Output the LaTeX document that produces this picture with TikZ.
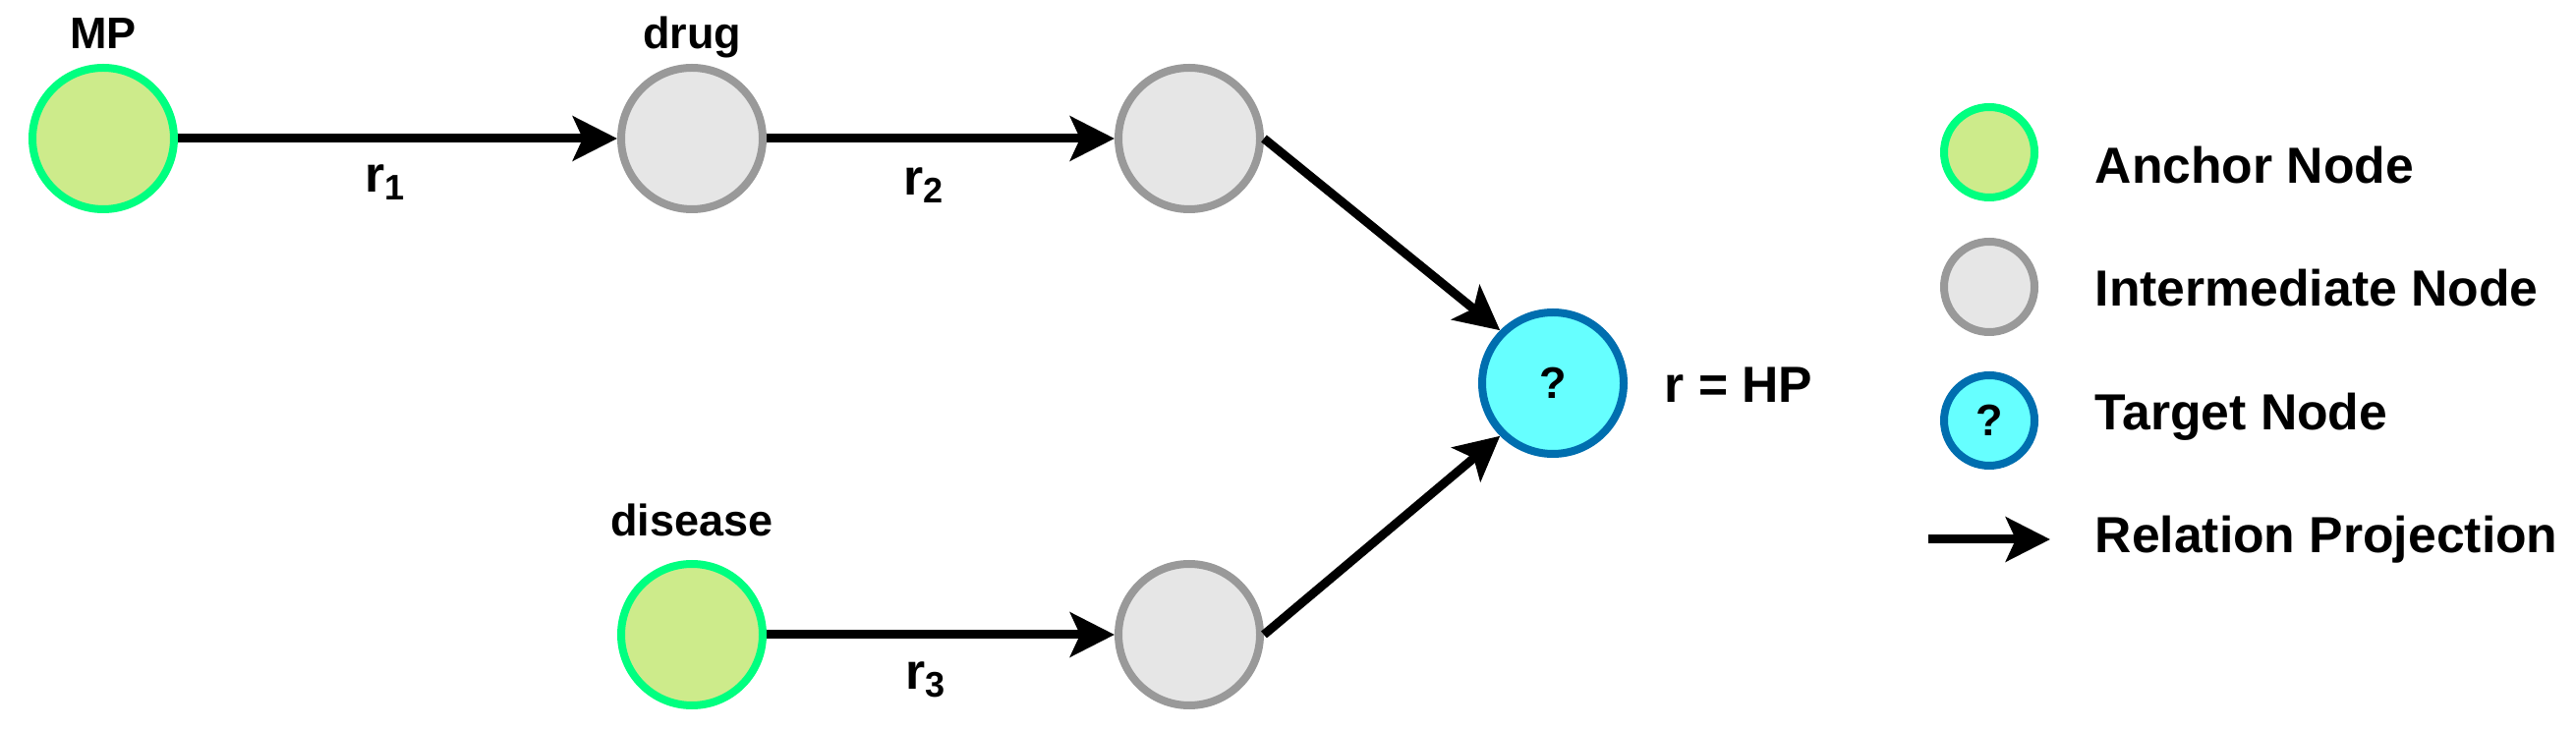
\documentclass[tikz,border=0pt]{standalone}
\usepackage{fontspec}
\setmainfont{Liberation Sans}
\usepackage{tikz}
\usetikzlibrary{arrows.meta, positioning}

\definecolor{anchorfill}{HTML}{CDEB8B}
\definecolor{anchordraw}{HTML}{00FF80}
\definecolor{midfill}{HTML}{E6E6E6}
\definecolor{middraw}{HTML}{999999}
\definecolor{tgtfill}{HTML}{66FFFF}
\definecolor{tgtdraw}{HTML}{006EAF}

\begin{document}
\begin{tikzpicture}[
    ent/.style={circle, line width=0.08cm, minimum size=1.44cm, inner sep=0pt},
    anc/.style={ent, draw=anchordraw, fill=anchorfill},
    mid/.style={ent, draw=middraw, fill=midfill},
    tgt/.style={ent, draw=tgtdraw, fill=tgtfill, font=\fontsize{12.8}{15}\selectfont\bfseries},
    legc/.style={minimum size=0.92cm},
    arr/.style={-{Stealth[length=0.45cm, width=0.45cm, inset=0.1cm]}, line width=0.09cm},
    nlbl/.style={font=\fontsize{12.8}{15}\selectfont\bfseries, inner sep=0pt, anchor=base},
    rlbl/.style={font=\fontsize{14.7}{17}\selectfont\bfseries, inner sep=0pt, anchor=base},
    legt/.style={font=\fontsize{14.7}{17}\selectfont\bfseries, inner sep=0pt, anchor=base west},
]
\useasboundingbox (0,0) rectangle (26.21,7.42);

% ---- Query graph ----
\node[anc] (mp) at (1.05,6.01) {};
\node[mid, right=4.47cm of mp] (drug) {};
\node[mid, right=3.54cm of drug] (hop) {};
\node[anc, below=3.53cm of drug] (dis) {};
\node[mid, right=3.54cm of dis] (hopb) {};
\node[tgt] (ans) at (15.80,3.52) {?};

% Entity labels
\node[nlbl] (mpLbl) at ([yshift=0.15cm]mp.north) {MP};
\node[nlbl] (drugLbl) at ([yshift=0.15cm]drug.north) {drug};
\node[nlbl] (disLbl) at ([yshift=0.24cm]dis.north) {disease};
\node[rlbl, anchor=base west] (relLbl) at (16.93,3.32) {r = HP};

% ---- Relation projections ----
\draw[arr] (mp.east) -- node[rlbl, xshift=-0.12cm, yshift=-0.55cm] (r1) {r\textsubscript{1}} (drug.west);
\draw[arr] (drug.east) -- node[rlbl, xshift=-0.17cm, yshift=-0.58cm] (r2) {r\textsubscript{2}} (hop.west);
\draw[arr] (dis.east) -- node[rlbl, xshift=-0.15cm, yshift=-0.56cm] (r3) {r\textsubscript{3}} (hopb.west);
\draw[arr] (hop.east) -- (ans.north west);
\draw[arr] (hopb.east) -- (ans.south west);

% ---- Legend ----
\node[anc, legc] (legA) at (20.24,5.87) {};
\node[mid, legc] (legI) at (20.24,4.50) {};
\node[tgt, legc] (legT) at (20.24,3.14) {?};
\coordinate (legS) at (19.62,1.93);
\coordinate (legE) at (20.86,1.93);
\draw[arr] (legS) -- (legE);

\node[legt] (legAt) at (21.31,5.55) {Anchor Node};
\node[legt] (legIt) at (21.31,4.30) {Intermediate Node};
\node[legt] (legTt) at (21.31,3.04) {Target Node};
\node[legt] (legRt) at (21.31,1.79) {Relation Projection};

\end{tikzpicture}
\end{document}
